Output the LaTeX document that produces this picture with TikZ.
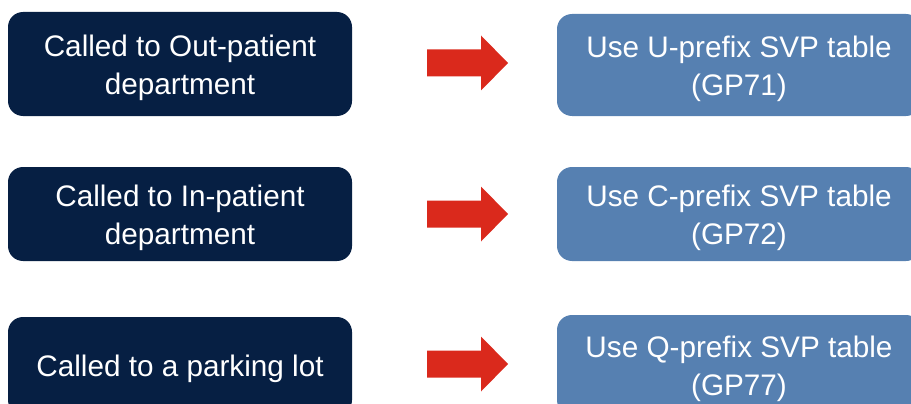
\documentclass[tikz,border=0pt]{standalone}
\usepackage{fontspec}
\setmainfont{Liberation Sans}
\usetikzlibrary{calc}
\definecolor{navy}{HTML}{061F43}
\definecolor{steel}{HTML}{5680B1}
\definecolor{arrowred}{HTML}{DA291C}
\begin{document}
\begin{tikzpicture}[x=1pt,y=-1pt,
  srcbox/.style={rectangle, rounded corners=15pt, fill=navy, minimum width=344pt, inner sep=0pt},
  dstbox/.style={rectangle, rounded corners=15pt, fill=steel, minimum width=364pt, inner sep=0pt},
  boxtext/.style={text=white, align=center, inner sep=0pt, font=\fontsize{29.7}{38}\selectfont},
  blockarrow/.style={fill=arrowred, draw=none}]
\useasboundingbox (0,0) rectangle (911,404);
\clip (0,0) rectangle (911,404);
\node[srcbox, minimum height=104pt] (s1) at (180,64) {};
\node[srcbox, minimum height=94pt] (s2) at (180,214) {};
\node[srcbox, minimum height=98pt] (s3) at (180,366) {};
\node[dstbox, minimum height=102pt] (d1) at (739,65) {};
\node[dstbox, minimum height=94pt] (d2) at (739,214) {};
\node[dstbox, minimum height=100pt] (d3) at (739,365) {};
\node[boxtext] (ts1) at ($(s1.center)+(0,4)$) {Called to Out-patient\\department};
\node[boxtext] (ts2) at ($(s2.center)+(0,4)$) {Called to In-patient\\department};
\node[boxtext] (ts3) at ($(s3.center)+(0,3)$) {Called to a parking lot};
\node[boxtext] (td1) at ($(d1.center)+(0,4)$) {Use U-prefix SVP table\\(GP71)};
\node[boxtext] (td2) at ($(d2.center)+(0,4)$) {Use C-prefix SVP table\\(GP72)};
\node[boxtext] (td3) at ($(d3.center)+(0,4)$) {Use Q-prefix SVP table\\(GP77)};
\foreach \i/\c in {1/63,2/214,3/364}{
  \coordinate (a\i) at (427,\c);
  \fill[blockarrow] ($(a\i)+(0,-13.5)$) -- ++(54,0) -- ++(0,-14) -- ($(a\i)+(81,0)$)
    -- ($(a\i)+(54,27.5)$) -- ++(0,-14) -- ($(a\i)+(0,13.5)$) -- cycle;
}
\end{tikzpicture}
\end{document}
